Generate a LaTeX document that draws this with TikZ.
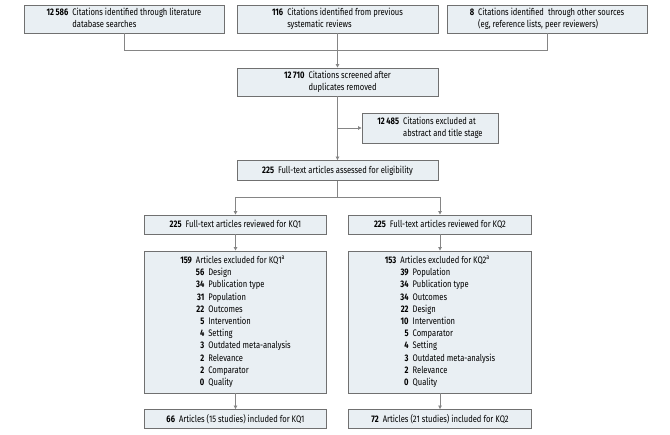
\documentclass[tikz,border=0pt]{standalone}
\usepackage{fontspec}
\setmainfont{Fira Sans}[FakeStretch=0.8]
\usetikzlibrary{arrows.meta}
\definecolor{boxfill}{HTML}{E9EFF3}
\definecolor{boxline}{HTML}{707070}
\definecolor{conn}{HTML}{858585}
\tikzset{
  box/.style={draw=boxline, fill=boxfill, line width=0.9pt, inner sep=0pt, align=center,
    font=\fontsize{9.5}{12.2}\selectfont},
  conline/.style={draw=conn, line width=0.9pt},
  arr/.style={conline, -{Triangle[width=3.5pt,length=3.5pt]}},
}
\newcommand{\hang}[3]{\begin{tabular}{@{}r@{\hspace{4pt}}l@{}}\textbf{#1} & #2\\ & #3\end{tabular}}
\begin{document}
\begin{tikzpicture}[x=1pt,y=-1pt]
\useasboundingbox (0,0) rectangle (670,435);
% top row
\node[box, minimum width=200pt, minimum height=28pt] (s1) at (124,19) {\hang{12\,586}{Citations identified through literature}{database searches}};
\node[box, minimum width=201pt, minimum height=28pt] (s2) at (337.5,19) {\hang{116}{Citations identified from previous}{systematic reviews}};
\node[box, minimum width=200pt, minimum height=28pt] (s3) at (547,19) {\hang{8}{Citations identified\ \ through other sources}{(eg, reference lists, peer reviewers)}};
\coordinate (hL) at (124,50);
\coordinate (hR) at (547,50);
\draw[conline] (s1.south) -- (hL) -- (hR) -- (s3.south);
\draw[conline] (s2.south) -- (s2.south|-hL);
% screened
\node[box, minimum width=201pt, minimum height=28pt] (c1) at (337.5,82) {\hang{12\,710}{Citations screened after}{duplicates removed}};
\draw[arr] (s2.south|-hL) -- (c1.north);
\node[box, minimum width=136pt, minimum height=30pt] (ex) at (430,128) {\hang{12\,485}{Citations excluded at}{abstract and title stage}};
\node[box, minimum width=201pt, minimum height=20pt] (ft) at (337.5,170.5) {\textbf{225}\hspace{4pt}Full-text articles assessed for eligibility};
\draw[arr] (c1.south) -- (ft.north);
\draw[arr] (c1.south|-ex.west) -- (ex.west);
% KQ boxes
\node[box, minimum width=182pt, minimum height=19pt] (k1) at (235.5,224.5) {\textbf{225}\hspace{4pt}Full-text articles reviewed for KQ1};
\node[box, minimum width=183pt, minimum height=19pt] (k2) at (440,224.5) {\textbf{225}\hspace{4pt}Full-text articles reviewed for KQ2};
\coordinate (sp) at (337.5,197);
\draw[conline] (ft.south) -- (sp);
\draw[conline] (k1.north|-sp) -- (k2.north|-sp);
\draw[arr] (k1.north|-sp) -- (k1.north);
\draw[arr] (k2.north|-sp) -- (k2.north);
% exclusion boxes
\node[box, minimum width=182pt, minimum height=142pt] (e1) at (235.5,322) {\begin{tabular}{@{}r@{\hspace{4pt}}r@{\hspace{4pt}}l@{}}
\textbf{159} & \multicolumn{2}{@{}l@{}}{Articles excluded for KQ1\textsuperscript{a}}\\
 & \textbf{56} & Design\\
 & \textbf{34} & Publication type\\
 & \textbf{31} & Population\\
 & \textbf{22} & Outcomes\\
 & \textbf{5} & Intervention\\
 & \textbf{4} & Setting\\
 & \textbf{3} & Outdated meta-analysis\\
 & \textbf{2} & Relevance\\
 & \textbf{2} & Comparator\\
 & \textbf{0} & Quality
\end{tabular}};
\node[box, minimum width=183pt, minimum height=142pt] (e2) at (440,322) {\begin{tabular}{@{}r@{\hspace{4pt}}r@{\hspace{4pt}}l@{}}
\textbf{153} & \multicolumn{2}{@{}l@{}}{Articles excluded for KQ2\textsuperscript{a}}\\
 & \textbf{39} & Population\\
 & \textbf{34} & Publication type\\
 & \textbf{34} & Outcomes\\
 & \textbf{22} & Design\\
 & \textbf{10} & Intervention\\
 & \textbf{5} & Comparator\\
 & \textbf{4} & Setting\\
 & \textbf{3} & Outdated meta-analysis\\
 & \textbf{2} & Relevance\\
 & \textbf{0} & Quality
\end{tabular}};
\draw[arr] (k1.south) -- (e1.north);
\draw[arr] (k2.south) -- (e2.north);
% included
\node[box, minimum width=182pt, minimum height=19pt] (i1) at (235.5,419) {\textbf{66}\hspace{4pt}Articles (15 studies) included for KQ1};
\node[box, minimum width=183pt, minimum height=19pt] (i2) at (440,419) {\textbf{72}\hspace{4pt}Articles (21 studies) included for KQ2};
\draw[arr] (e1.south) -- (i1.north);
\draw[arr] (e2.south) -- (i2.north);
\end{tikzpicture}
\end{document}
